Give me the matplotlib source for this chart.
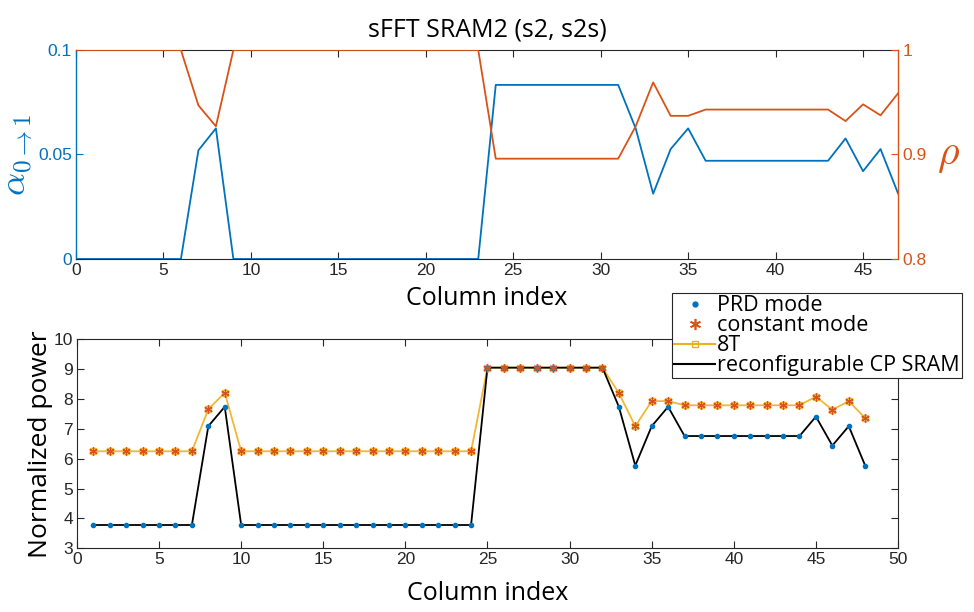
import numpy as np
import matplotlib
matplotlib.use("Agg")
import matplotlib.pyplot as plt
from matplotlib.lines import Line2D

# ---------------- data ----------------
top_cols = list(range(0, 48))
alpha01 = [0, 0, 0, 0, 0, 0, 0, 0.052, 0.0625, 0,
           0, 0, 0, 0, 0, 0, 0, 0, 0, 0,
           0, 0, 0, 0, 0.0833, 0.0833, 0.0833, 0.0833, 0.0833, 0.0833,
           0.0833, 0.0833, 0.0625, 0.03125, 0.0526, 0.0625, 0.047, 0.047, 0.047, 0.047,
           0.047, 0.047, 0.047, 0.047, 0.0577, 0.042, 0.0526, 0.0314]
rho = [1, 1, 1, 1, 1, 1, 1, 0.947, 0.927, 1,
       1, 1, 1, 1, 1, 1, 1, 1, 1, 1,
       1, 1, 1, 1, 0.896, 0.896, 0.896, 0.896, 0.896, 0.896,
       0.896, 0.896, 0.927, 0.969, 0.937, 0.937, 0.943, 0.943, 0.943, 0.943,
       0.943, 0.943, 0.943, 0.943, 0.932, 0.948, 0.9375, 0.9585]

bot_cols = list(range(1, 49))
prd_power = [3.78, 3.78, 3.78, 3.78, 3.78, 3.78, 3.78, 7.09, 7.74, 3.78,
             3.78, 3.78, 3.78, 3.78, 3.78, 3.78, 3.78, 3.78, 3.78, 3.78,
             3.78, 3.78, 3.78, 3.78, 9.05, 9.05, 9.05, 9.05, 9.05, 9.05,
             9.05, 9.05, 7.74, 5.77, 7.09, 7.74, 6.76, 6.76, 6.76, 6.76,
             6.76, 6.76, 6.76, 6.76, 7.41, 6.44, 7.09, 5.77]
const_power = [6.25, 6.25, 6.25, 6.25, 6.25, 6.25, 6.25, 7.655, 8.21, 6.25,
               6.25, 6.25, 6.25, 6.25, 6.25, 6.25, 6.25, 6.25, 6.25, 6.25,
               6.25, 6.25, 6.25, 6.25, 9.05, 9.05, 9.05, 9.05, 9.05, 9.05,
               9.05, 9.05, 8.2, 7.09, 7.93, 7.93, 7.79, 7.79, 7.79, 7.79,
               7.79, 7.79, 7.79, 7.79, 8.08, 7.64, 7.93, 7.36]

title = "sFFT SRAM2 (s2, s2s)"
xlabel = "Column index"
ylabel_bot = "Normalized power"
legend_labels = ["PRD mode", "constant mode", "8T", "reconfigurable CP SRAM"]

# ---------------- style ----------------
plt.rcParams["mathtext.fontset"] = "cm"
BLUE = "#0072BD"
ORANGE = "#D95319"
YELLOW = "#EDB120"
AXC = "#262626"
TICKFONT = "Liberation Sans"
LABFONT = "Open Sans"
TS = 12.5

fig = plt.figure(figsize=(9.74, 6.12), dpi=100)

# ---------------- top axes ----------------
ax1 = fig.add_axes([0.078, 0.5768, 0.844, 0.3415])
ax2 = ax1.twinx()
ax1.plot(top_cols, alpha01, color=BLUE, lw=1.3)
ax2.plot(top_cols, rho, color=ORANGE, lw=1.3)
ax1.set_xlim(0, 47)
ax1.set_ylim(0, 0.1)
ax2.set_ylim(0.8, 1.0)
ax1.set_xticks(range(0, 46, 5))
ax1.set_yticks([0, 0.05, 0.1])
ax1.set_yticklabels(["0", "0.05", "0.1"])
ax2.set_yticks([0.8, 0.9, 1.0])
ax2.set_yticklabels(["0.8", "0.9", "1"])

for s in ["top", "bottom"]:
    ax1.spines[s].set_color(AXC)
    ax1.spines[s].set_linewidth(0.8)
    ax2.spines[s].set_visible(False)
ax1.spines["left"].set_color(BLUE)
ax1.spines["right"].set_visible(False)
ax2.spines["left"].set_visible(False)
ax2.spines["right"].set_color(ORANGE)
ax1.spines["left"].set_linewidth(1.0)
ax2.spines["right"].set_linewidth(1.0)

ax1.tick_params(axis="x", direction="in", top=True, length=5, width=0.8,
                colors=AXC, labelsize=TS, pad=3)
ax1.tick_params(axis="y", direction="in", length=5, width=0.8,
                colors=BLUE, labelsize=TS, pad=3)
ax2.tick_params(axis="y", direction="in", length=5, width=0.8,
                colors=ORANGE, labelsize=TS, pad=3)
for lab in ax1.get_xticklabels() + ax1.get_yticklabels() + ax2.get_yticklabels():
    lab.set_fontfamily(TICKFONT)

ax1.set_xlabel(xlabel, fontsize=18, family=LABFONT, color="black", labelpad=6)
ax1.set_ylabel(r"$\alpha_{0\rightarrow 1}$", fontsize=26, color=BLUE, labelpad=2)
ax2.set_ylabel(r"$\rho$", fontsize=30, color=ORANGE, rotation=0,
               labelpad=16, va="center")
ax1.set_title(title, fontsize=18, family=LABFONT, pad=10)

# ---------------- bottom axes ----------------
ax3 = fig.add_axes([0.079, 0.1041, 0.843, 0.3415])
ax3.plot(bot_cols, const_power, color=YELLOW, lw=1.3, marker="s",
         markersize=4, markerfacecolor="none", markeredgecolor=YELLOW,
         alpha=0.9)
ax3.plot(bot_cols, prd_power, color="black", lw=1.3)
ax3.plot(bot_cols, prd_power, linestyle="none", marker=".",
         color=BLUE, markersize=6)
ax3.plot(bot_cols, const_power, linestyle="none", marker=(6, 2, 0),
         color=ORANGE, markersize=6, markeredgewidth=1.0)

ax3.set_xlim(0, 50)
ax3.set_ylim(3, 10)
ax3.set_xticks(range(0, 51, 5))
ax3.set_yticks(range(3, 11))
for s in ax3.spines.values():
    s.set_color(AXC)
    s.set_linewidth(0.8)
ax3.tick_params(direction="in", top=True, right=True, length=5, width=0.8,
                colors=AXC, labelsize=TS, pad=3)
for lab in ax3.get_xticklabels() + ax3.get_yticklabels():
    lab.set_fontfamily(TICKFONT)
ax3.set_xlabel(xlabel, fontsize=18, family=LABFONT, labelpad=10)
ax3.set_ylabel(ylabel_bot, fontsize=19, family=LABFONT, labelpad=0)

# legend (in figure coordinates)
lh1 = Line2D([], [], linestyle="none", marker=".", color=BLUE, markersize=7)
lh2 = Line2D([], [], linestyle="none", marker=(6, 2, 0), color=ORANGE,
             markersize=8, markeredgewidth=1.2)
lh3 = Line2D([], [], color=YELLOW, lw=1.5, marker="s", markersize=5,
             markerfacecolor="none", markeredgecolor=YELLOW)
lh4 = Line2D([], [], color="black", lw=1.5)
leg = fig.legend([lh1, lh2, lh3, lh4], legend_labels,
                 loc="upper left", bbox_to_anchor=(0.690, 0.521),
                 bbox_transform=fig.transFigure, borderaxespad=0,
                 fancybox=False, framealpha=1, edgecolor=AXC,
                 prop={"family": LABFONT, "size": 15.5},
                 handlelength=1.9, handletextpad=0.1, labelspacing=-0.05,
                 borderpad=0.1)
leg.get_frame().set_linewidth(0.8)

fig.savefig("out.png", dpi=100)
